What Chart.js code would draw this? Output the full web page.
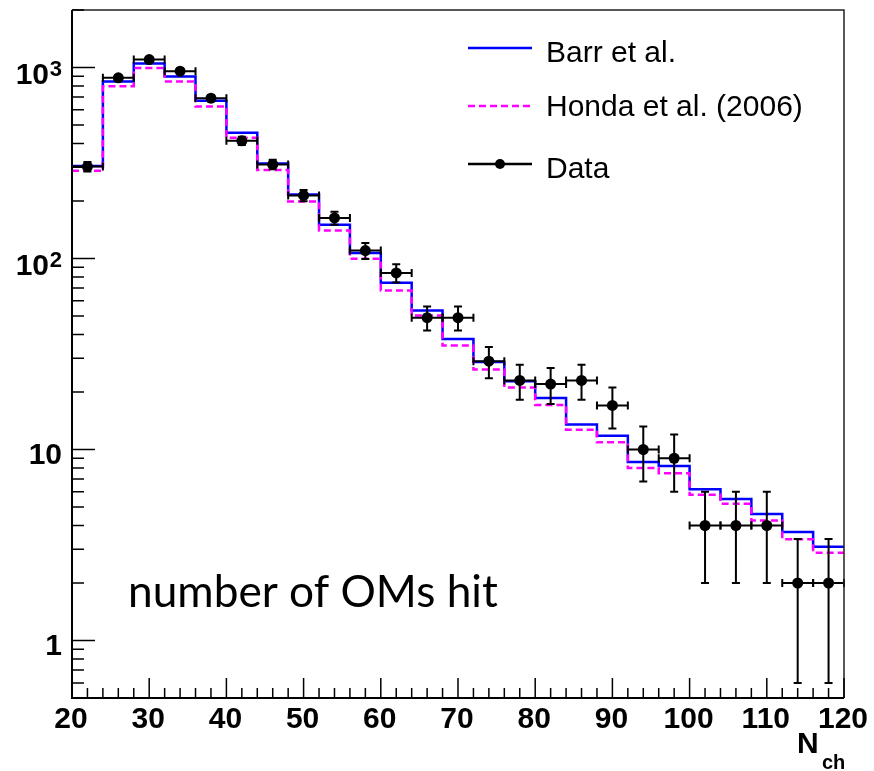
<!DOCTYPE html>
<html>
<head>
<meta charset="utf-8">
<script src="https://cdn.jsdelivr.net/npm/chart.js@4.4.1/dist/chart.umd.min.js"></script>
<style>
  html, body { margin: 0; padding: 0; background: #ffffff; }
  #wrap { width: 874px; height: 771px; }
</style>
</head>
<body>
<div id="wrap"><canvas id="nchChart"></canvas></div>
<script>
// bin edges of the N_ch histograms (width 4)
const binEdges = [20, 24, 28, 32, 36, 40, 44, 48, 52, 56, 60, 64, 68, 72, 76, 80, 84, 88, 92, 96, 100, 104, 108, 112, 116, 120];

const barrValues = [305, 845, 1050, 897, 670, 455, 314, 216, 150, 107, 74.6, 53.5, 37.9, 28.7, 22.8, 18.6, 13.5, 11.8, 8.6, 8.2, 6.2, 5.5, 4.6, 3.7, 3.1];
const hondaValues = [288, 798, 993, 845, 625, 429, 291, 199, 140, 99.6, 68, 50.3, 35, 26.2, 21.1, 17.1, 12.7, 10.9, 8.0, 7.5, 5.8, 5.2, 4.25, 3.39, 2.88];

const dataCenters = [22, 26, 30, 34, 38, 42, 46, 50, 54, 58, 62, 66, 70, 74, 78, 82, 86, 90, 94, 98, 102, 106, 110, 114, 118];
const dataValues = [303, 883, 1100, 957, 691, 413, 311, 214, 163, 110, 84, 49, 49, 29, 23, 22, 23, 17, 10, 9, 4, 4, 4, 2, 2];
const dataErrors = [17.4, 29.7, 33.2, 30.9, 26.3, 20.3, 17.6, 14.6, 12.8, 10.5, 9.2, 7.0, 7.0, 5.4, 4.8, 4.7, 4.8, 4.1, 3.2, 3.0, 2.0, 2.0, 2.0, 1.4, 1.4];
const binHalfWidth = 2;

const xTickValues = [20, 30, 40, 50, 60, 70, 80, 90, 100, 110, 120];
const yTickValues = [1, 10, 100, 1000];
const yTickBases = ["1", "10", "10", "10"];
const yTickExponents = ["", "", "2", "3"];

const seriesLabels = ["Barr et al.", "Honda et al. (2006)", "Data"];
const annotationText = "number of OMs hit";

function stepPoints(values) {
  return binEdges.map((edge, i) => ({ x: edge, y: values[Math.min(i, values.length - 1)] }));
}

const rootStylePlugin = {
  id: "rootStyle",
  afterDatasetsDraw(chart) {
    const ctx = chart.ctx;
    const area = chart.chartArea;
    const xScale = chart.scales.x;
    const yScale = chart.scales.y;

    ctx.save();

    // error bars of the data points
    ctx.strokeStyle = "#000000";
    ctx.lineWidth = 2;
    dataCenters.forEach((center, i) => {
      const x = xScale.getPixelForValue(center);
      const xl = xScale.getPixelForValue(center - binHalfWidth);
      const xr = xScale.getPixelForValue(center + binHalfWidth);
      const y = yScale.getPixelForValue(dataValues[i]);
      const yTop = yScale.getPixelForValue(dataValues[i] + dataErrors[i]);
      const yBot = yScale.getPixelForValue(dataValues[i] - dataErrors[i]);
      ctx.beginPath();
      ctx.moveTo(xl, y);
      ctx.lineTo(xr, y);
      ctx.moveTo(xl, y - 4);
      ctx.lineTo(xl, y + 4);
      ctx.moveTo(xr, y - 4);
      ctx.lineTo(xr, y + 4);
      ctx.moveTo(x, yTop);
      ctx.lineTo(x, yBot);
      ctx.moveTo(x - 4, yTop);
      ctx.lineTo(x + 4, yTop);
      ctx.moveTo(x - 4, yBot);
      ctx.lineTo(x + 4, yBot);
      ctx.stroke();
    });

    // frame
    ctx.lineWidth = 1.5;
    ctx.strokeStyle = "#222222";
    ctx.beginPath();
    ctx.moveTo(area.left, area.top);
    ctx.lineTo(area.right, area.top);
    ctx.lineTo(area.right, area.bottom);
    ctx.stroke();
    ctx.lineWidth = 2;
    ctx.strokeStyle = "#000000";
    ctx.beginPath();
    ctx.moveTo(area.left, area.top);
    ctx.lineTo(area.left, area.bottom);
    ctx.lineTo(area.right, area.bottom);
    ctx.stroke();

    // inside ticks
    ctx.lineWidth = 1.5;
    ctx.beginPath();
    for (let v = 20; v <= 120; v += 2) {
      const x = xScale.getPixelForValue(v);
      const len = v % 10 === 0 ? 20 : 10;
      ctx.moveTo(x, area.bottom);
      ctx.lineTo(x, area.bottom - len);
    }
    for (let d = -1; d <= 3; d++) {
      for (let m = 1; m <= 9; m++) {
        const v = m * Math.pow(10, d);
        if (v < yScale.min || v > yScale.max) continue;
        const y = yScale.getPixelForValue(v);
        const len = m === 1 ? 23 : 12;
        ctx.moveTo(area.left, y);
        ctx.lineTo(area.left + len, y);
      }
    }
    ctx.stroke();

    // tick labels
    ctx.fillStyle = "#000000";
    ctx.font = "bold 30px 'Liberation Sans', Arial, sans-serif";
    ctx.textAlign = "center";
    ctx.textBaseline = "alphabetic";
    xTickValues.forEach((v) => {
      ctx.fillText(String(v), xScale.getPixelForValue(v) - 1, area.bottom + 30);
    });

    yTickValues.forEach((v, i) => {
      const y = yScale.getPixelForValue(v);
      ctx.textAlign = "right";
      if (yTickExponents[i]) {
        ctx.font = "bold 22px 'Liberation Sans', Arial, sans-serif";
        ctx.fillText(yTickExponents[i], 62, y + 8.5);
        ctx.font = "bold 30px 'Liberation Sans', Arial, sans-serif";
        ctx.fillText(yTickBases[i], 49, y + 17);
      } else {
        ctx.font = "bold 30px 'Liberation Sans', Arial, sans-serif";
        ctx.fillText(yTickBases[i], 62, y + 14);
      }
    });

    // axis title N_ch
    ctx.textAlign = "left";
    ctx.font = "bold 30px 'Liberation Sans', Arial, sans-serif";
    ctx.fillText("N", 797, 753);
    ctx.font = "bold 20px 'Liberation Sans', Arial, sans-serif";
    ctx.fillText("ch", 822, 769);

    // annotation
    ctx.font = "100px Lato, 'Open Sans', sans-serif";
    const fullWidth = ctx.measureText(annotationText).width;
    const annotationSize = 100 * 370 / fullWidth;
    ctx.font = annotationSize.toFixed(1) + "px Lato, 'Open Sans', sans-serif";
    ctx.fillText(annotationText, 128, 607);

    // legend
    const legendLineY = [48, 106, 164];
    const legendTextY = [62, 116, 178];
    ctx.font = "30px 'Liberation Sans', Arial, sans-serif";
    const legendOrder = [2, 1, 0];
    legendOrder.forEach((dsIndex, row) => {
      const ds = chart.data.datasets[dsIndex];
      const ly = legendLineY[row];
      ctx.save();
      ctx.strokeStyle = ds.legendColor;
      ctx.lineWidth = ds.legendWidth;
      ctx.setLineDash(ds.borderDash || []);
      ctx.beginPath();
      ctx.moveTo(468, ly);
      ctx.lineTo(532, ly);
      ctx.stroke();
      ctx.restore();
      if (ds.label === "Data") {
        ctx.beginPath();
        ctx.arc(500, ly, 5, 0, Math.PI * 2);
        ctx.fill();
      }
      ctx.fillStyle = "#000000";
      ctx.fillText(ds.label, 546, legendTextY[row]);
    });

    ctx.restore();
  },
};

new Chart(document.getElementById("nchChart"), {
  type: "scatter",
  data: {
    datasets: [
      {
        label: seriesLabels[2],
        data: dataCenters.map((c, i) => ({ x: c, y: dataValues[i] })),
        showLine: false,
        pointRadius: 5.5,
        pointBackgroundColor: "#000000",
        pointBorderColor: "#000000",
        pointBorderWidth: 0,
        legendColor: "#000000",
        legendWidth: 2.5,
      },
      {
        label: seriesLabels[1],
        data: stepPoints(hondaValues),
        showLine: true,
        stepped: "before",
        borderColor: "#ff00ff",
        borderWidth: 2.5,
        borderDash: [7, 4],
        pointRadius: 0,
        fill: false,
        legendColor: "#ff00ff",
        legendWidth: 2.5,
      },
      {
        label: seriesLabels[0],
        data: stepPoints(barrValues),
        showLine: true,
        stepped: "before",
        borderColor: "#0000ff",
        borderWidth: 2.5,
        pointRadius: 0,
        fill: false,
        legendColor: "#0000ff",
        legendWidth: 2.5,
      },
    ],
  },
  plugins: [rootStylePlugin],
  options: {
    responsive: true,
    maintainAspectRatio: false,
    animation: false,
    layout: {
      padding: { left: 72, right: 30, top: 10, bottom: 73 },
    },
    plugins: {
      legend: { display: false },
      tooltip: { enabled: false },
    },
    scales: {
      x: {
        type: "linear",
        min: 20,
        max: 120,
        display: false,
      },
      y: {
        type: "logarithmic",
        min: 0.5,
        max: 2000,
        display: false,
      },
    },
  },
});
</script>
</body>
</html>
